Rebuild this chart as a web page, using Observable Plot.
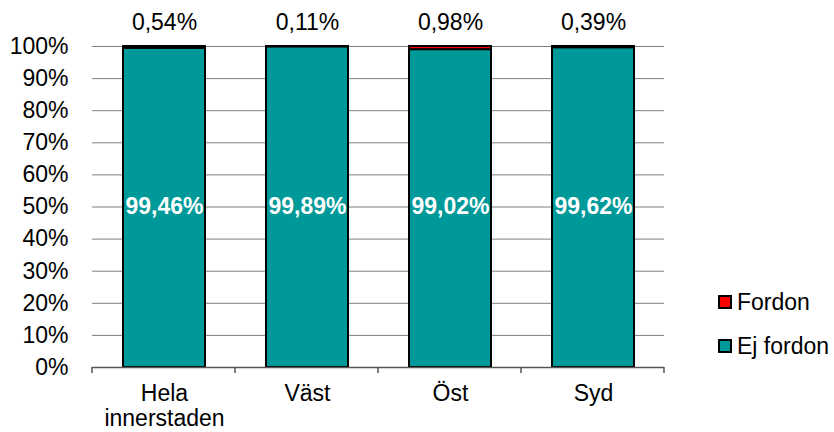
<!DOCTYPE html>
<html><head><meta charset="utf-8">
<script src="https://cdn.jsdelivr.net/npm/d3@7"></script>
<script src="https://cdn.jsdelivr.net/npm/@observablehq/plot@0.6"></script>
<style>
body{margin:0;background:#fff;}
#wrap{position:relative;width:834px;height:432px;font-family:"Liberation Sans",Arial,sans-serif;}
.legend{position:absolute;left:718px;font-size:23px;line-height:26px;color:#000;display:flex;align-items:center;white-space:nowrap;}
.legend .sw{width:10px;height:10px;border:2px solid #000;margin-right:5px;box-sizing:content-box;}
</style></head><body><div id="wrap"></div>
<script>
const categories = ["Hela\ninnerstaden", "Väst", "Öst", "Syd"];
const seriesNames = ["Ej fordon", "Fordon"];
const ejFordon = [99.46, 99.89, 99.02, 99.62];
const fordon = [0.54, 0.11, 0.98, 0.39];
const yTicks = [0, 10, 20, 30, 40, 50, 60, 70, 80, 90, 100];
const colors = ["#009999", "#FF0000"];

const fmt = v => d3.format(".2f")(v).replace(".", ",") + "%";
const rows = [
  ...categories.map((c, i) => ({cat: c, series: seriesNames[0], value: ejFordon[i]})),
  ...categories.map((c, i) => ({cat: c, series: seriesNames[1], value: fordon[i]}))
];
const topRows = categories.map((c, i) => ({cat: c, value: fordon[i]}));
const midRows = categories.map((c, i) => ({cat: c, value: ejFordon[i]}));

const chart = Plot.plot({
  width: 834, height: 432,
  marginLeft: 92, marginRight: 170, marginTop: 46, marginBottom: 65,
  style: {fontFamily: '"Liberation Sans", Arial, sans-serif', fontSize: "23px", color: "#000", background: "#fff"},
  x: {domain: categories, paddingInner: 0.427, paddingOuter: 0.2135, align: 0.5, axis: null},
  y: {domain: [0, 100], ticks: yTicks, tickFormat: d => d + "%", tickSize: 0, tickPadding: 24, label: null},
  color: {domain: seriesNames, range: colors},
  marks: [
    Plot.ruleY(yTicks, {stroke: "#7f7f7f", strokeWidth: 1}),
    Plot.barY(rows, {x: "cat", y: "value", fill: "series", stroke: "#000", strokeWidth: 2}),
    Plot.ruleY([0], {stroke: "#555", strokeWidth: 1.5}),
    Plot.text(topRows, {x: "cat", y: () => 100, text: d => fmt(d.value), dy: -24, fontSize: 23, fill: "#000"}),
    Plot.text(midRows, {x: "cat", y: () => 50, text: d => fmt(d.value), fontSize: 23, fontWeight: "bold", fill: "#fff"}),
    Plot.text(categories, {x: d => d, y: () => 0, text: d => d, lineAnchor: "top", dy: 16, lineHeight: 1.08, fontSize: 23, fill: "#000"})
  ]
});

// category boundary ticks on the x axis, derived from the plot's band scale
const sx = chart.scale("x"), sy = chart.scale("y");
const band = d3.scaleBand(sx.domain, sx.range).paddingInner(sx.paddingInner).paddingOuter(sx.paddingOuter).align(sx.align ?? 0.5);
const ys = d3.scaleLinear(sy.domain, sy.range);
const bounds = categories.map(c => band(c) - band.step() * band.paddingInner() / 2);
bounds.push(bounds[bounds.length - 1] + band.step());
d3.select(chart).append("g").selectAll("line").data(bounds).join("line")
  .attr("x1", d => d).attr("x2", d => d)
  .attr("y1", ys(0)).attr("y2", ys(0) + 6)
  .attr("stroke", "#555").attr("stroke-width", 1.5);

const wrap = document.getElementById("wrap");
wrap.appendChild(chart);
const legendItems = [{name: seriesNames[1], color: colors[1], top: 289}, {name: seriesNames[0], color: colors[0], top: 333}];
for (const it of legendItems) {
  const div = document.createElement("div");
  div.className = "legend";
  div.style.top = it.top + "px";
  div.innerHTML = `<span class="sw" style="background:${it.color}"></span><span>${it.name}</span>`;
  wrap.appendChild(div);
}
</script>
</body></html>
